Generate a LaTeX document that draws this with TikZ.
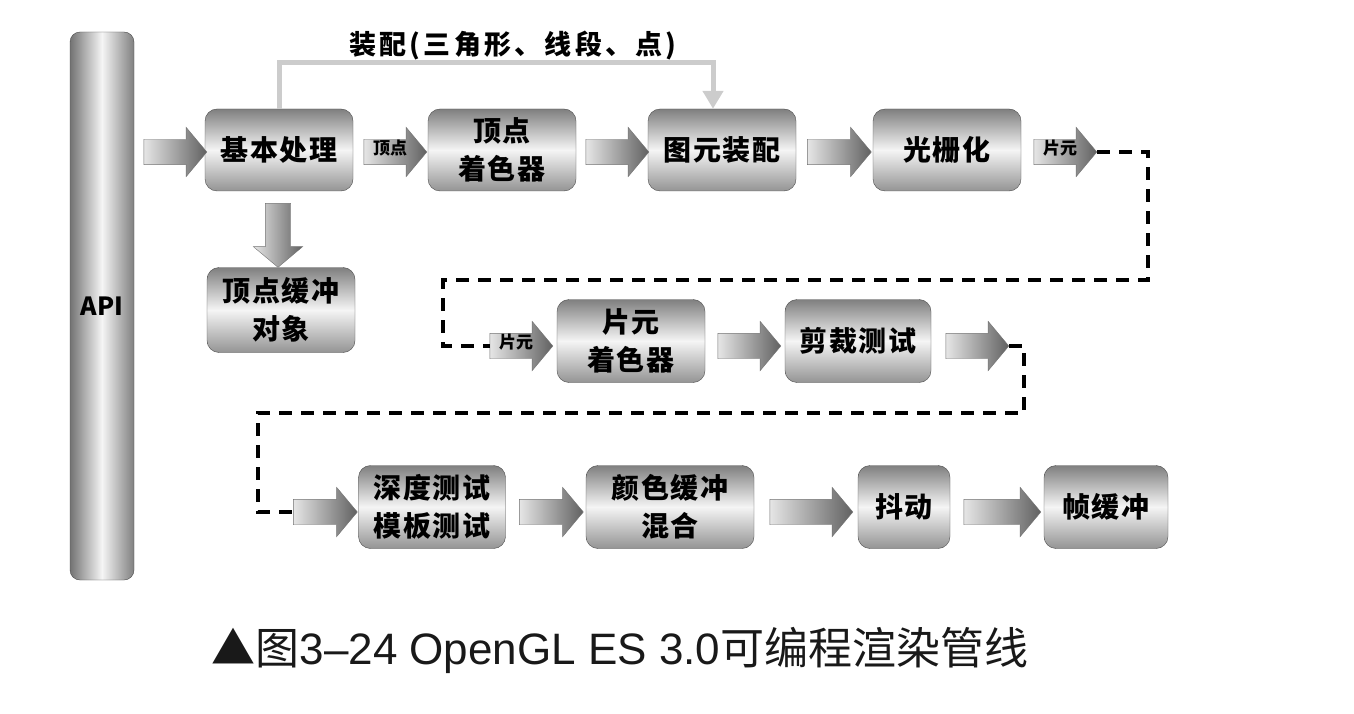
\documentclass[tikz,border=0pt]{standalone}
\usepackage{fontspec}
\newfontfamily\cjk{Noto Sans CJK SC}
\newfontfamily\lat{Liberation Sans}
\usetikzlibrary{shapes.arrows,arrows.meta}
\tikzset{
  stage/.style={draw=black!70, rounded corners=12pt, top color=black!50, bottom color=black!42, middle color=white!96!black,
    minimum width=148pt, minimum height=82pt, align=center, inner sep=0pt,
    font=\cjk\bfseries\fontsize{28}{38}\selectfont\addfontfeatures{LetterSpace=6}},
  flow/.style={single arrow, draw=black!55, left color=black!10, right color=black!62,
    minimum height=#1, single arrow head extend=12pt, single arrow tip angle=100,
    inner xsep=2pt, inner ysep=0pt, text height=15pt, text depth=10pt,
    font=\cjk\bfseries\fontsize{17}{17}\selectfont},
  flow/.default=63pt,
  dashline/.style={line width=3.5pt, dash pattern=on 13pt off 9pt},
}
\begin{document}
\begin{tikzpicture}[x=1pt,y=-1pt]
\useasboundingbox (0,0) rectangle (1354,714);
% API bar
\node[draw=black!70, rounded corners=10pt, left color=black!55, right color=black!50, middle color=white!96!black,
  minimum width=64pt, minimum height=548pt, inner sep=0pt, font=\cjk\bfseries\fontsize{25}{25}\selectfont]
  (api) at (102,306) {API};
% first row
\node[stage] (basic)   at (279,150) {基本处理};
\node[stage] (vshader) at (502,150) {顶点\\着色器};
\node[stage] (prim)    at (722,150) {图元装配};
\node[stage] (raster)  at (947,150) {光栅化};
\node[stage, minimum height=85pt] (vbo) at (281,310) {顶点缓冲\\对象};
% second row
\node[stage, minimum height=83pt] (fshader) at (631,341) {片元\\着色器};
\node[stage, minimum width=146pt, minimum height=83pt] (scissor) at (858,341) {剪裁测试};
% third row
\node[stage, minimum width=147pt, minimum height=83pt] (depth) at (432,507) {深度测试\\模板测试};
\node[stage, minimum width=168pt, minimum height=83pt] (blend) at (670,507) {颜色缓冲\\混合};
\node[stage, minimum width=92pt, minimum height=83pt] (dither) at (904,507) {抖动};
\node[stage, minimum width=124pt, minimum height=83pt] (fbuf) at (1106,507) {帧缓冲};
% block arrows
\node[flow] (a1) at (170,152) {};
\node[flow] (a2) at (390,152) {顶点};
\node[flow] (a3) at (612,152) {};
\node[flow=64pt] (a4) at (834,152) {};
\node[flow] (a5) at (1060,152) {片元};
\node[flow=64pt, rotate=-90] (a0) at (278,230) {};
\node[flow] (a6) at (516,346) {片元};
\node[flow] (a7) at (744,346) {};
\node[flow] (a8) at (972,346) {};
\node[flow=64pt] (a9) at (320,512) {};
\node[flow=64pt] (a10) at (546,512) {};
\node[flow=83pt] (a11) at (806,512) {};
\node[flow=77pt] (a12) at (997,512) {};
% assembly path
\node[font=\cjk\bfseries\fontsize{27}{27}\selectfont\addfontfeatures{LetterSpace=12}] (asm) at (513,46) {装配(三角形、线段、点)};
\coordinate (up1) at (279,63);
\coordinate (up2) at (713,63);
\draw[black!20, line width=5pt, -{Triangle[width=20pt,length=18pt]}] (basic.north) -- (up1) -- (up2) -- ([xshift=-9pt]prim.north);
% dashed links
\coordinate (t1) at (1148,280);
\coordinate (t2) at (443,280);
\coordinate (t3) at (1024,413);
\coordinate (t4) at (258,413);
\draw[dashline] (a5.east) -| (t1) -- (t2) |- (a6.west);
\draw[dashline] (a8.east) -| (t3) -- (t4) |- (a9.west);
% caption
\node[text=black!90, font=\fontsize{44}{44}\selectfont] (cap) at (620,650) {{\cjk ▲图}{\lat 3–24 OpenGL ES 3.0}{\cjk 可编程渲染管线}};
\end{tikzpicture}
\end{document}
